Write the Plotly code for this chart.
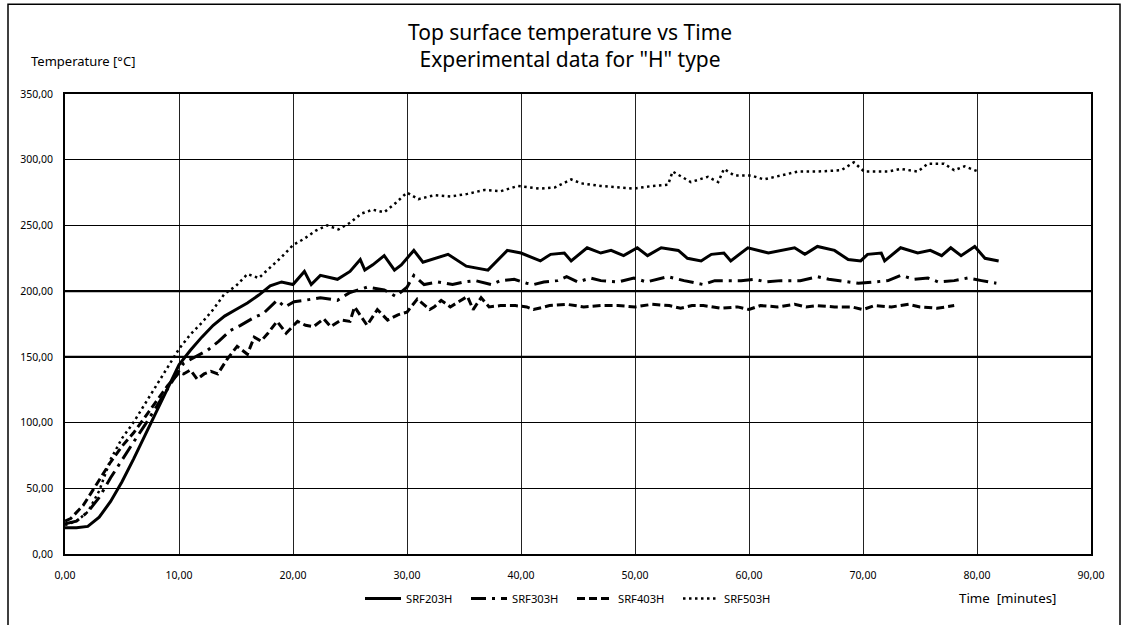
import plotly.graph_objects as go

# ---------------- data ----------------
t_203 = [0, 1, 2, 3, 4, 5, 6, 7, 8, 9, 10, 11, 12, 13, 14, 15, 16, 17, 18, 19, 20, 21, 21.6, 22.4, 23.9,
         25, 25.9, 26.3, 27, 28, 28.9, 29.5, 30.6, 31.4, 32.5, 33.6, 35.2, 37.1, 38.8, 40, 41.7, 42.6,
         43.8, 44.4, 45.8, 47, 47.9, 49, 50.2, 51.1, 52.3, 53.8, 54.6, 55.8, 56.7, 57.8, 58.4, 59.9,
         61.7, 63, 64, 64.9, 66, 67.5, 68.7, 69.8, 70.4, 71.6, 71.9, 73.3, 74.8, 75.9, 76.9, 77.7,
         78.6, 79.8, 80.7, 81.9]
v_203 = [20, 20, 21, 28, 40, 55, 72, 90, 108, 125, 144, 155, 165, 174, 181, 186, 191, 197, 204, 207, 205,
         215, 205, 212, 209, 215, 224, 216, 220, 227, 216, 220, 231, 222, 225, 228, 219, 216, 231, 229,
         223, 228, 229, 223, 233, 229, 231, 227, 233, 227, 233, 231, 225, 223, 228, 229, 223, 233, 229,
         231, 233, 228, 234, 231, 224, 223, 228, 229, 223, 233, 229, 231, 227, 233, 227, 234, 225, 223]

t_303 = [0, 1, 2, 3, 4, 5, 6, 7, 8, 9, 10, 10.4, 11, 12.5, 13.5, 14.5, 15.4, 16.6, 17.4, 18.6, 19.3, 20.1,
         21, 22.4, 23.9, 25, 26.5, 28, 29, 30, 30.6, 31.5, 32.7, 34, 35, 36, 37.4, 38.2, 39.4, 40.5, 41.1,
         42, 43.2, 44, 45, 46.1, 47, 48.5, 49.9, 51, 52.9, 54.3, 56, 57, 59.3, 60.5, 61.5, 62.8, 64.5, 66,
         67, 68.5, 69.6, 71, 72.2, 73.3, 74.5, 75.7, 76.6, 78, 79.2, 80.4, 81.7]
v_303 = [23, 25, 32, 43, 58, 72, 85, 98, 112, 125, 140, 145, 148, 155, 162, 170, 174, 180, 183, 193, 188,
         192, 193, 195, 193, 199, 203, 201, 196, 203, 212, 205, 207, 205, 207, 208, 205, 208, 209, 206,
         205, 207, 208, 211, 207, 210, 208, 207, 210, 207, 211, 208, 205, 208, 208, 209, 207, 208, 208,
         211, 209, 207, 206, 207, 208, 212, 209, 210, 207, 208, 210, 208, 206]

t_403 = [0, 0.5, 1.6, 3.1, 4, 5, 6, 7, 8, 9, 10, 10.4, 11, 11.6, 12.2, 12.8, 13.4, 14.2, 15.1, 16, 16.6,
         17.2, 17.8, 18.6, 19.4, 20.4, 21.1, 21.8, 22.7, 23.3, 24.2, 25, 25.4, 26, 26.5, 27.4, 28.3, 29.2,
         30, 30.9, 31.6, 32, 32.4, 33, 33.8, 34.5, 35.3, 35.8, 36.5, 37.2, 38.2, 39.5, 40.5, 41.1, 42.5,
         44, 45.5, 47, 48.5, 50, 51.5, 53, 54, 55, 56, 57.5, 59, 60, 61, 62.5, 64, 65, 66, 67.5, 69, 70,
         71, 72.5, 74, 75, 76.5, 78]
v_403 = [25, 27, 37, 58, 70, 82, 92, 104, 116, 128, 138, 137, 140, 133, 137, 139, 137, 148, 158, 152, 165,
         162, 168, 177, 168, 177, 174, 173, 179, 173, 178, 177, 188, 180, 174, 186, 178, 182, 184, 194,
         189, 186, 188, 193, 188, 192, 196, 186, 195, 188, 189, 189, 188, 186, 189, 190, 188, 189, 189,
         188, 190, 189, 187, 189, 189, 187, 188, 186, 189, 188, 190, 188, 189, 188, 188, 186, 189, 188,
         190, 188, 187, 189]

t_503 = [0, 1, 2, 3, 4, 5, 6, 7, 8, 9, 10, 11, 12, 13, 14, 15, 16, 17, 18, 19, 20, 21, 22, 23, 24, 25, 26,
         27, 28, 29, 30, 31, 32.4, 33.8, 35.3, 36.8, 38.2, 39.7, 41.7, 43, 44.4, 45.3, 47, 49.9, 51.5,
         52.9, 53.3, 54.9, 56.4, 57.3, 57.8, 58.7, 60.2, 61.3, 62.8, 64.3, 66, 68.1, 69.2, 70.1, 72.2,
         73.3, 74.8, 75.7, 77.1, 78, 78.9, 80.1]
v_503 = [22, 25, 32, 48, 72, 88, 100, 114, 128, 143, 156, 167, 176, 186, 198, 204, 213, 210, 218, 226,
         235, 240, 246, 250, 247, 252, 259, 262, 260, 267, 275, 270, 273, 272, 274, 277, 276, 280, 278,
         279, 285, 282, 280, 278, 280, 281, 291, 283, 287, 283, 293, 288, 288, 285, 288, 291, 291, 292,
         298, 291, 291, 293, 291, 297, 297, 292, 295, 291]

series_names = ["SRF203H", "SRF303H", "SRF403H", "SRF503H"]
x_ticks = [0, 10, 20, 30, 40, 50, 60, 70, 80, 90]
y_ticks = [0, 50, 100, 150, 200, 250, 300, 350]

# ---------------- figure ----------------
FONT = "Noto Sans"
fig = go.Figure()
styles = [
    dict(width=3, dash="solid"),
    dict(width=3, dash="15px,6px,3px,6px"),
    dict(width=3, dash="8px,4px"),
    dict(width=2.5, dash="2.5px,3.5px"),
]
for name, xs, ys, st in zip(series_names, [t_203, t_303, t_403, t_503],
                            [v_203, v_303, v_403, v_503], styles):
    fig.add_trace(go.Scatter(x=xs, y=ys, mode="lines", name=name,
                             line=dict(color="black", width=st["width"], dash=st["dash"])))

L, R, T, B = 65, 35, 94, 65
W, H = 1126, 625
pw, ph = W - L - R, H - T - B


def px_x(p):
    return (p - L) / pw


def px_y(p):
    return (H - B - p) / ph


shapes = [
    # outer chart frame
    dict(type="rect", xref="paper", yref="paper", x0=px_x(8), x1=px_x(1120),
         y0=px_y(680), y1=px_y(3), line=dict(color="black", width=1.5), layer="below"),
]
for yv in [150, 200]:
    shapes.append(dict(type="line", xref="paper", yref="y", x0=0, x1=1, y0=yv, y1=yv,
                       line=dict(color="black", width=2.2)))

fig.update_layout(
    width=W, height=H,
    margin=dict(l=L, r=R, t=T, b=B),
    paper_bgcolor="white", plot_bgcolor="white",
    separators=", ",
    font=dict(family=FONT, size=10, color="black"),
    showlegend=True,
    legend=dict(orientation="h", x=px_x(360), xanchor="left", y=px_y(605), yanchor="middle",
                font=dict(family=FONT, size=11.2), entrywidth=55, entrywidthmode="pixels",
                itemwidth=36, bgcolor="rgba(0,0,0,0)"),
    xaxis=dict(range=[0, 90], tickvals=x_ticks, tickformat=".2f", showgrid=True,
               gridcolor="#222", gridwidth=1, showline=True, linecolor="black", linewidth=1.5,
               mirror=True, zeroline=False, ticks="", tickfont=dict(size=10.5),
               ticklabelstandoff=11),
    yaxis=dict(range=[0, 350], tickvals=y_ticks, tickformat=".2f", showgrid=True,
               gridcolor="black", gridwidth=1, showline=True, linecolor="black", linewidth=1.5,
               mirror=True, zeroline=False, ticks="", tickfont=dict(size=10.5),
               ticklabelstandoff=8),
    shapes=shapes,
    annotations=[
        dict(text='Top surface temperature vs Time<br>Experimental data for "H" type',
             xref="paper", yref="paper", x=px_x(570), y=px_y(45), showarrow=False,
             font=dict(size=21, family=FONT), xanchor="center", yanchor="middle", align="center"),
        dict(text="Temperature [°C]", xref="paper", yref="paper", x=px_x(29), y=px_y(61),
             showarrow=False, xanchor="left", yanchor="middle", font=dict(size=13, family=FONT)),
        dict(text="Time  [minutes]", xref="paper", yref="paper", x=px_x(1007), y=px_y(605),
             showarrow=False, xanchor="center", yanchor="middle", font=dict(size=13.3, family=FONT)),
    ],
)

fig.write_html("out.html", config={"displayModeBar": False},
               post_script="document.body.style.margin='0';")
